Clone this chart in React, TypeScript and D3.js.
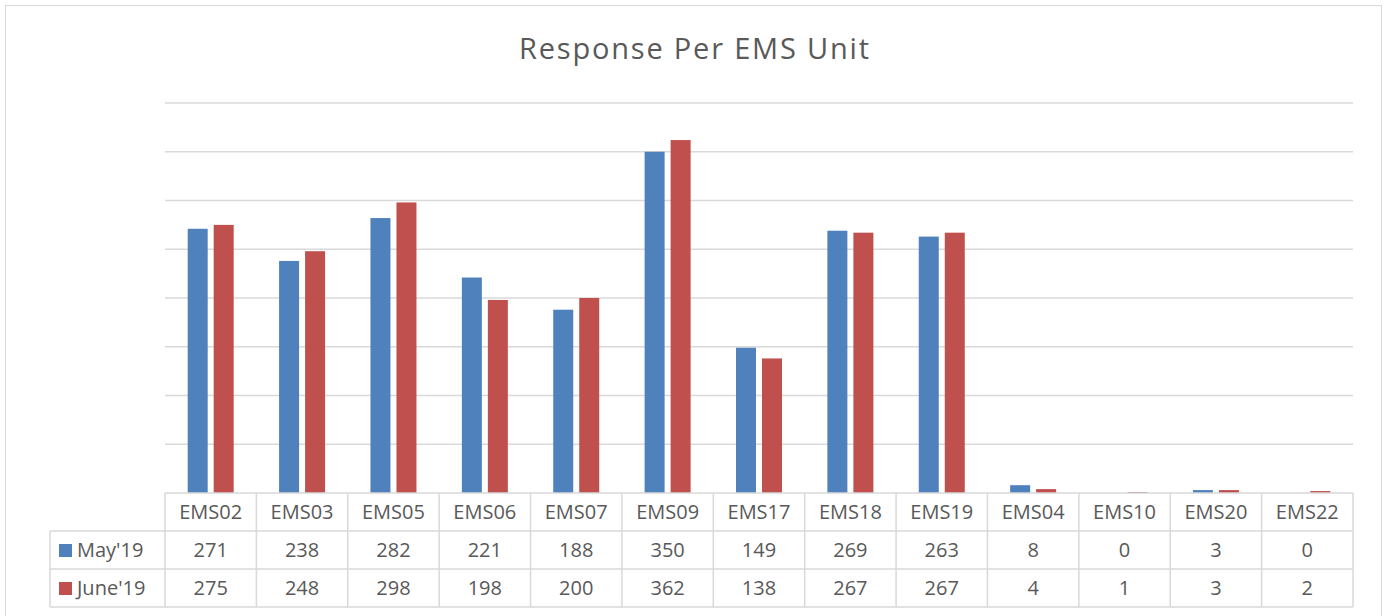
import * as d3 from 'd3';
import React, { useEffect, useRef } from 'react';

const units = ['EMS02', 'EMS03', 'EMS05', 'EMS06', 'EMS07', 'EMS09', 'EMS17', 'EMS18', 'EMS19', 'EMS04', 'EMS10', 'EMS20', 'EMS22'];
const may19 = [271, 238, 282, 221, 188, 350, 149, 269, 263, 8, 0, 3, 0];
const june19 = [275, 248, 298, 198, 200, 362, 138, 267, 267, 4, 1, 3, 2];
const seriesNames = ["May'19", "June'19"];
const gridTicks = [0, 50, 100, 150, 200, 250, 300, 350, 400];

export default function App() {
    const svgRef = useRef<SVGSVGElement | null>(null);

    useEffect(() => {
        if (!svgRef.current) return;
        const svg = d3.select(svgRef.current);
        svg.selectAll('*').remove();

        const width = 1385;
        const height = 616;
        const plotLeft = 165;
        const plotRight = 1353;
        const plotTop = 103;
        const plotBottom = 493;
        const rowH = 38;
        const legendLeft = 50;
        const font = 'Open Sans, Lato, sans-serif';
        const textColor = '#595959';
        const lineColor = '#d9d9d9';
        const colors = ['#4f81bd', '#c0504d'];
        const series = [may19, june19];

        svg.attr('width', width).attr('height', height);

        // chart border
        svg.append('rect')
            .attr('x', 5.5).attr('y', 5.5)
            .attr('width', 1376).attr('height', 620)
            .attr('fill', 'white')
            .attr('stroke', lineColor);

        svg.append('text')
            .attr('x', 694).attr('y', 59)
            .attr('text-anchor', 'middle')
            .attr('font-family', font)
            .attr('font-size', 29)
            .attr('textLength', 350)
            .attr('fill', textColor)
            .text('Response Per EMS Unit');

        const x = d3.scaleBand().domain(units).range([plotLeft, plotRight]);
        const y = d3.scaleLinear().domain([0, 400]).range([plotBottom, plotTop]);

        // gridlines
        svg.append('g')
            .selectAll('line')
            .data(gridTicks.slice(1))
            .join('line')
            .attr('x1', plotLeft).attr('x2', plotRight)
            .attr('y1', d => y(d)).attr('y2', d => y(d))
            .attr('stroke', lineColor).attr('stroke-width', 1.5);

        // bars
        const barW = 20;
        const barGap = 6;
        series.forEach((vals, si) => {
            svg.append('g')
                .attr('fill', colors[si])
                .selectAll('rect')
                .data(vals.map((v, i) => ({ unit: units[i], v })))
                .join('rect')
                .attr('x', d => x(d.unit)! + x.bandwidth() / 2 - barGap / 2 - barW + si * (barW + barGap))
                .attr('y', d => y(d.v))
                .attr('width', barW)
                .attr('height', d => y(0) - y(d.v));
        });

        // data table
        const table = svg.append('g')
            .attr('stroke', lineColor)
            .attr('stroke-width', 1.5)
            .attr('fill', 'none');
        table.append('line').attr('x1', plotLeft).attr('x2', plotRight).attr('y1', plotBottom).attr('y2', plotBottom);
        [1, 2, 3].forEach(r => {
            table.append('line')
                .attr('x1', legendLeft).attr('x2', plotRight)
                .attr('y1', plotBottom + r * rowH).attr('y2', plotBottom + r * rowH);
        });
        table.append('line').attr('x1', legendLeft).attr('x2', legendLeft)
            .attr('y1', plotBottom + rowH).attr('y2', plotBottom + 3 * rowH);
        [...units.map(u => x(u)!), plotRight].forEach(xv => {
            table.append('line').attr('x1', xv).attr('x2', xv)
                .attr('y1', plotBottom).attr('y2', plotBottom + 3 * rowH);
        });

        const txt = svg.append('g')
            .attr('font-family', font)
            .attr('font-size', 20)
            .attr('fill', textColor)
            .attr('text-anchor', 'middle');

        txt.selectAll('text.head')
            .data(units)
            .join('text')
            .attr('class', 'head')
            .attr('x', d => x(d)! + x.bandwidth() / 2)
            .attr('y', plotBottom + rowH / 2 + 7)
            .text(d => d);

        series.forEach((vals, si) => {
            const rowMid = plotBottom + (si + 1) * rowH + rowH / 2;
            txt.append('g')
                .selectAll('text')
                .data(vals.map((v, i) => ({ unit: units[i], v })))
                .join('text')
                .attr('x', d => x(d.unit)! + x.bandwidth() / 2)
                .attr('y', rowMid + 7)
                .text(d => d.v);

            svg.append('rect')
                .attr('x', 59).attr('y', rowMid - 6)
                .attr('width', 13).attr('height', 13)
                .attr('fill', colors[si]);
            txt.append('text')
                .attr('x', 77).attr('y', rowMid + 7)
                .attr('text-anchor', 'start')
                .text(seriesNames[si]);
        });
    }, []);

    return (
        <div style={{ position: 'absolute', left: 0, top: 0, width: 1385, height: 616, overflow: 'hidden' }}>
            <svg ref={svgRef} style={{ display: 'block' }}></svg>
        </div>
    );
}
